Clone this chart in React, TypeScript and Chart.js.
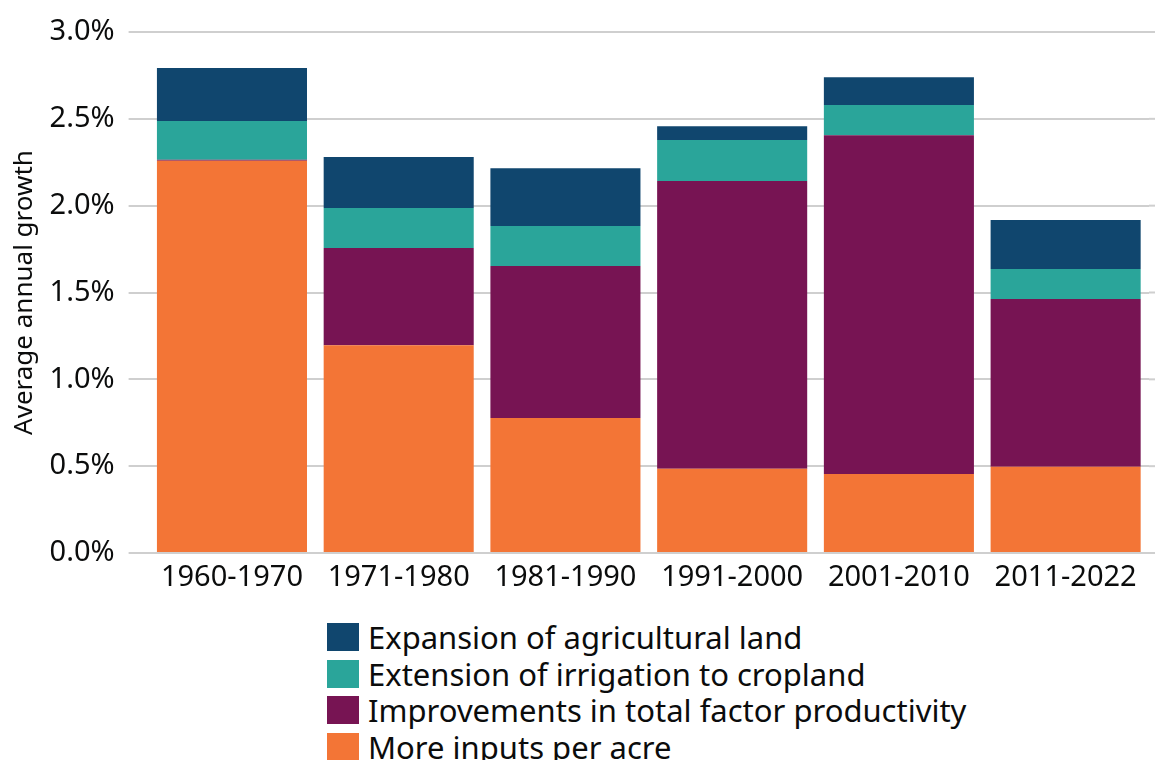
import React, { useEffect, useRef } from "react";
import { Chart, registerables } from "chart.js";

Chart.register(...registerables);

const categories = ["1960-1970", "1971-1980", "1981-1990", "1991-2000", "2001-2010", "2011-2022"];
const moreInputs = [2.258, 1.196, 0.777, 0.485, 0.455, 0.497];
const tfp = [0.007, 0.56, 0.875, 1.657, 1.951, 0.965];
const irrigation = [0.223, 0.23, 0.231, 0.236, 0.173, 0.173];
const expansion = [0.305, 0.294, 0.333, 0.08, 0.161, 0.282];
const yTicks = [0, 0.5, 1, 1.5, 2, 2.5, 3];

const seriesNames = [
  "More inputs per acre",
  "Improvements in total factor productivity",
  "Extension of irrigation to cropland",
  "Expansion of agricultural land",
];
const seriesColors = ["#F37536", "#771453", "#2AA59A", "#10466E"];
const seriesData = [moreInputs, tfp, irrigation, expansion];

const FONT = "'Noto Sans', 'Liberation Sans', sans-serif";
const TEXT = "#0b0c0c";
const GRID = "#cfcfcf";

const gridExtend = {
  id: "gridExtend",
  beforeDatasetsDraw(chart: any) {
    const { ctx, chartArea, scales } = chart;
    const y = scales.y;
    ctx.save();
    ctx.strokeStyle = GRID;
    ctx.lineWidth = 2;
    y.ticks.forEach((t: any) => {
      const py = y.getPixelForValue(t.value);
      ctx.beginPath();
      ctx.moveTo(chartArea.right, py);
      ctx.lineTo(chart.width, py);
      ctx.stroke();
    });
    ctx.restore();
  },
};

export default function App() {
  const ref = useRef<HTMLCanvasElement | null>(null);
  useEffect(() => {
    if (!ref.current) return;
    const chart = new Chart(ref.current, {
      type: "bar",
      data: {
        labels: categories,
        datasets: seriesData.map((d, i) => ({
          label: seriesNames[i],
          data: d,
          backgroundColor: seriesColors[i],
          borderWidth: 0,
          barPercentage: 0.9,
          categoryPercentage: 1.0,
        })),
      },
      options: {
        animation: false,
        responsive: false,
        maintainAspectRatio: false,
        layout: { padding: { left: 0, right: 6, top: 32, bottom: 0 } },
        plugins: {
          legend: { display: false },
          tooltip: { enabled: false },
        },
        scales: {
          x: {
            stacked: true,
            grid: { display: false, drawTicks: false },
            border: { display: false },
            ticks: { color: TEXT, font: { family: FONT, size: 29 }, padding: 7, maxRotation: 0 },
            afterFit: (s: any) => {
              s.height = 47;
            },
          },
          y: {
            stacked: true,
            min: 0,
            max: 3,
            afterBuildTicks: (s: any) => {
              s.ticks = yTicks.map((v) => ({ value: v }));
            },
            grid: { color: GRID, lineWidth: 2, tickLength: 20, tickColor: GRID, drawTicks: true },
            border: { display: false },
            ticks: {
              color: TEXT,
              font: { family: FONT, size: 29 },
              padding: 14,
              callback: (v: any) => Number(v).toFixed(1) + "%",
            },
            title: {
              display: true,
              text: "Average annual growth",
              color: TEXT,
              font: { family: FONT, size: 26 },
              padding: { top: 9, bottom: 0 },
            },
            afterFit: (s: any) => {
              s.width = 148.6;
            },
          },
        },
      },
      plugins: [gridExtend],
    });
    return () => chart.destroy();
  }, []);

  const legendOrder = [3, 2, 1, 0];
  return (
    <div style={{ position: "fixed", left: 0, top: 0, width: 1155, height: 760, background: "#fff", overflow: "hidden" }}>
      <canvas ref={ref} width={1155} height={600} style={{ position: "absolute", left: 0, top: 0, width: 1155, height: 600 }} />
      {legendOrder.map((idx, i) => (
        <div
          key={idx}
          style={{
            position: "absolute",
            left: 327,
            top: 623 + i * 36.5,
            height: 28,
            display: "flex",
            alignItems: "center",
            whiteSpace: "nowrap",
          }}
        >
          <div style={{ width: 32, height: 28, background: seriesColors[idx], flex: "none" }} />
          <span style={{ marginLeft: 9, fontFamily: FONT, fontSize: 31, lineHeight: "28px", color: TEXT }}>
            {seriesNames[idx]}
          </span>
        </div>
      ))}
    </div>
  );
}
